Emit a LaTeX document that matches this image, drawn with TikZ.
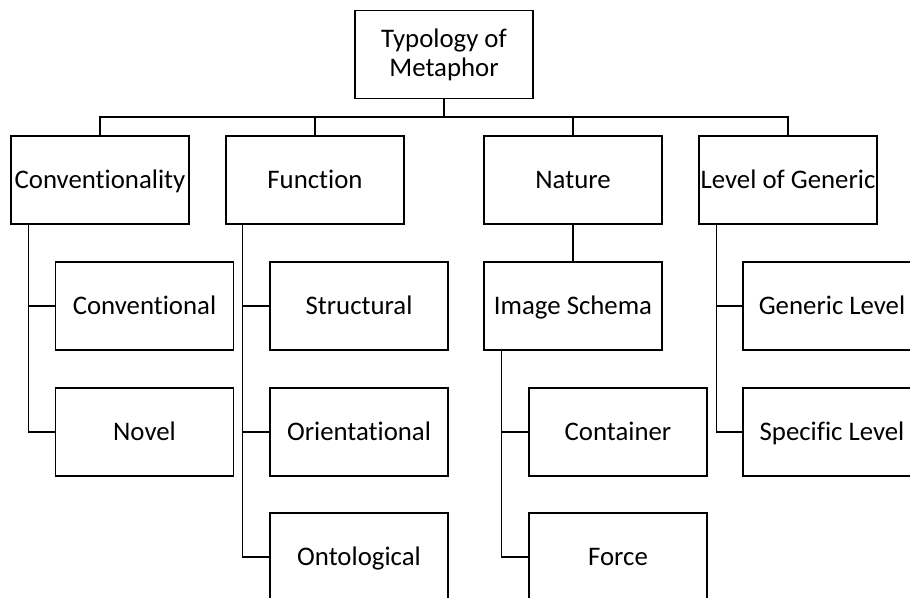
\documentclass[tikz,border=0pt]{standalone}
\usepackage{fontspec}
\setmainfont{Carlito}[Ligatures=NoCommon]
\usepackage{tikz}
\usetikzlibrary{positioning,calc}

\begin{document}
\begin{tikzpicture}
  [
    x=0.5pt, y=-0.5pt,
    Box/.style={rectangle, draw=black, line width=0.75pt, minimum width=89pt, minimum height=44pt,
      inner sep=0pt, align=center, font=\fontsize{13.4}{14.5}\selectfont},
    Leaf/.style={Box, text height=10.5pt, text depth=2pt},
    Link/.style={draw=black, line width=0.75pt}
  ]
  \useasboundingbox (0,0) rectangle (910,598);
  \clip (0,0) rectangle (910,598);
  % Nodes
  \node[Box] (root) at (444, 54.5) {Typology of\\Metaphor};
  \node[Leaf] (conv) at (100, 180) {Conventionality};
  \node[Leaf] (func) at (315, 180) {Function};
  \node[Leaf] (natr) at (573, 180) {Nature};
  \node[Leaf] (levl) at (788, 180) {Level of Generic};
  \node[Leaf] (conventional) at (144.5, 306) {Conventional};
  \node[Leaf] (novel) at (144.5, 432) {Novel};
  \node[Leaf] (structural) at (359, 306) {Structural};
  \node[Leaf] (orient) at (359, 432) {Orientational};
  \node[Leaf] (onto) at (359, 557) {Ontological};
  \node[Leaf] (schema) at (573, 306) {Image Schema};
  \node[Leaf] (container) at (618, 432) {Container};
  \node[Leaf] (force) at (618, 557) {Force};
  \node[Leaf] (generic) at (832, 306) {Generic Level};
  \node[Leaf] (specific) at (832, 432) {Specific Level};
  \coordinate (bus) at (444, 117);
  % Lines
  \path [Link] (root.south) -- (bus);
  \path [Link] (conv.north) |- (bus) -| (levl.north);
  \path [Link] (func.north) -- (func.north |- bus);
  \path [Link] (natr.north) -- (natr.north |- bus);
  \path [Link] (natr.south) -- (schema.north);
  \path [Link] ([xshift=9pt]conv.south west) |- (conventional.west);
  \path [Link] ([xshift=9pt]conv.south west) |- (novel.west);
  \path [Link] ([xshift=8.5pt]func.south west) |- (structural.west);
  \path [Link] ([xshift=8.5pt]func.south west) |- (orient.west);
  \path [Link] ([xshift=8.5pt]func.south west) |- (onto.west);
  \path [Link] ([xshift=9pt]schema.south west) |- (container.west);
  \path [Link] ([xshift=9pt]schema.south west) |- (force.west);
  \path [Link] ([xshift=9pt]levl.south west) |- (generic.west);
  \path [Link] ([xshift=9pt]levl.south west) |- (specific.west);
\end{tikzpicture}
\end{document}
